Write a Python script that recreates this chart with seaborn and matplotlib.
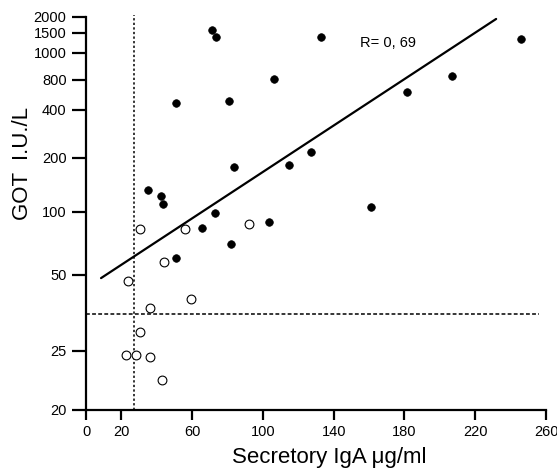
import numpy as np
import pandas as pd
import matplotlib
matplotlib.use("Agg")
import matplotlib.pyplot as plt
import seaborn as sns

# ==========================================
# Data
# ==========================================

# filled circles
filled_iga = [71.2, 73.3, 133.0, 245.7, 106.1, 206.7, 181.3, 51.0, 80.7,
              127.4, 114.8, 83.7, 34.9, 42.2, 43.5, 73.1, 65.6, 103.3,
              82.1, 51.0, 161.1]
filled_got = [1590, 1380, 1375, 1330, 805, 825, 611, 473, 492,
              217, 183, 178, 133, 123, 111, 98.6, 83.6, 89.9,
              70.3, 60.2, 107]

# open circles
open_iga = [30.5, 56.0, 92.1, 44.3, 23.9, 59.5, 36.3, 30.5, 22.8, 28.1,
            36.3, 43.1]
open_got = [82.7, 83.0, 88.0, 57.8, 47.5, 40.0, 36.9, 29.7, 24.6, 24.6,
            24.4, 22.4]

# regression line end points
fit_iga = [8.5, 231.8]
fit_got = [48.6, 1930]

# cut-off lines
cut_iga = 27.3
cut_got = 35

x_ticks = [0, 20, 60, 100, 140, 180, 220, 260]
y_ticks = [20, 25, 50, 100, 200, 400, 800, 1000, 1500, 2000]

# the printed y axis is not a true log axis: heights (px above 20) of each tick
y_tick_heights = [0, 59, 135, 198, 252, 300, 330, 357, 377, 393]

# ==========================================
# Custom y scale (piecewise log, linear beyond the ends)
# ==========================================

log_ticks = np.log10(y_ticks)
heights = np.array(y_tick_heights, dtype=float)
slope_lo = (heights[1] - heights[0]) / (log_ticks[1] - log_ticks[0])
slope_hi = (heights[-1] - heights[-2]) / (log_ticks[-1] - log_ticks[-2])


def forward(v):
    lv = np.log10(np.clip(np.asarray(v, dtype=float), 1e-9, None))
    h = np.interp(lv, log_ticks, heights)
    h = np.where(lv < log_ticks[0],
                 heights[0] + (lv - log_ticks[0]) * slope_lo, h)
    h = np.where(lv > log_ticks[-1],
                 heights[-1] + (lv - log_ticks[-1]) * slope_hi, h)
    return h


def inverse(h):
    h = np.asarray(h, dtype=float)
    lv = np.interp(h, heights, log_ticks)
    lv = np.where(h < heights[0],
                  log_ticks[0] + (h - heights[0]) / slope_lo, lv)
    lv = np.where(h > heights[-1],
                  log_ticks[-1] + (h - heights[-1]) / slope_hi, lv)
    return 10 ** lv


filled_df = pd.DataFrame({"iga": filled_iga, "got": filled_got})
open_df = pd.DataFrame({"iga": open_iga, "got": open_got})
fit_df = pd.DataFrame({"iga": fit_iga, "got": fit_got})

# ==========================================
# Plot
# ==========================================

sns.set_style("ticks")
plt.rcParams["font.family"] = ["Liberation Sans", "DejaVu Sans"]
plt.rcParams["text.color"] = "black"
plt.rcParams["axes.labelcolor"] = "black"

fig = plt.figure(figsize=(5.57, 4.73), dpi=100)
ax = fig.add_axes([0.1544, 0.1332, 0.8259, 0.8309])

ax.set_yscale("function", functions=(forward, inverse))
ax.set_xlim(0, 260)
ax.set_ylim(20, 2000)

ax.axhline(cut_got, color="black", linestyle=(0, (2.5, 1.5)),
           linewidth=1.1, xmax=0.985)
ax.axvline(cut_iga, color="black", linestyle=(0, (1.5, 1.5)),
           linewidth=1.1, ymax=1.005, clip_on=False)

sns.lineplot(data=fit_df, x="iga", y="got", color="black",
             linewidth=1.6, estimator=None, ax=ax)

sns.scatterplot(data=filled_df, x="iga", y="got", color="black",
                s=30, edgecolor="black", linewidth=0.5, ax=ax, zorder=3)
sns.scatterplot(data=open_df, x="iga", y="got", facecolor="white",
                s=40, edgecolor="black", linewidth=0.8, ax=ax, zorder=3)

ax.text(155, 1225, "R= 0, 69", fontsize=10.5, ha="left", va="center",
        color="black",
        family=["Liberation Sans Narrow", "Liberation Sans"])

ax.set_xticks(x_ticks)
ax.set_yticks(y_ticks)
ax.set_xticklabels([str(t) for t in x_ticks])
ax.set_yticklabels([str(t) for t in y_ticks])
ax.minorticks_off()

for lab in ax.get_xticklabels() + ax.get_yticklabels():
    lab.set_family(["Liberation Sans Narrow", "Liberation Sans"])
    lab.set_fontsize(10.5)
    lab.set_color("black")

ax.tick_params(axis="x", direction="out", length=7, width=1.6, pad=4,
               colors="black")
ax.tick_params(axis="y", direction="out", length=10, width=1.6, pad=4,
               colors="black")

for side in ["left", "bottom"]:
    ax.spines[side].set_linewidth(1.6)
    ax.spines[side].set_color("black")
sns.despine(ax=ax)

ax.set_xlabel("Secretory IgA μg/ml", fontsize=16, color="black")
ax.set_ylabel("GOT  I.U./L", fontsize=16, color="black")
ax.xaxis.set_label_coords(0.528, -0.12)
ax.yaxis.set_label_coords(-0.139, 0.626)
ax.xaxis.label.set_va("center")
ax.yaxis.label.set_va("center")

fig.savefig("out.png", dpi=100)
